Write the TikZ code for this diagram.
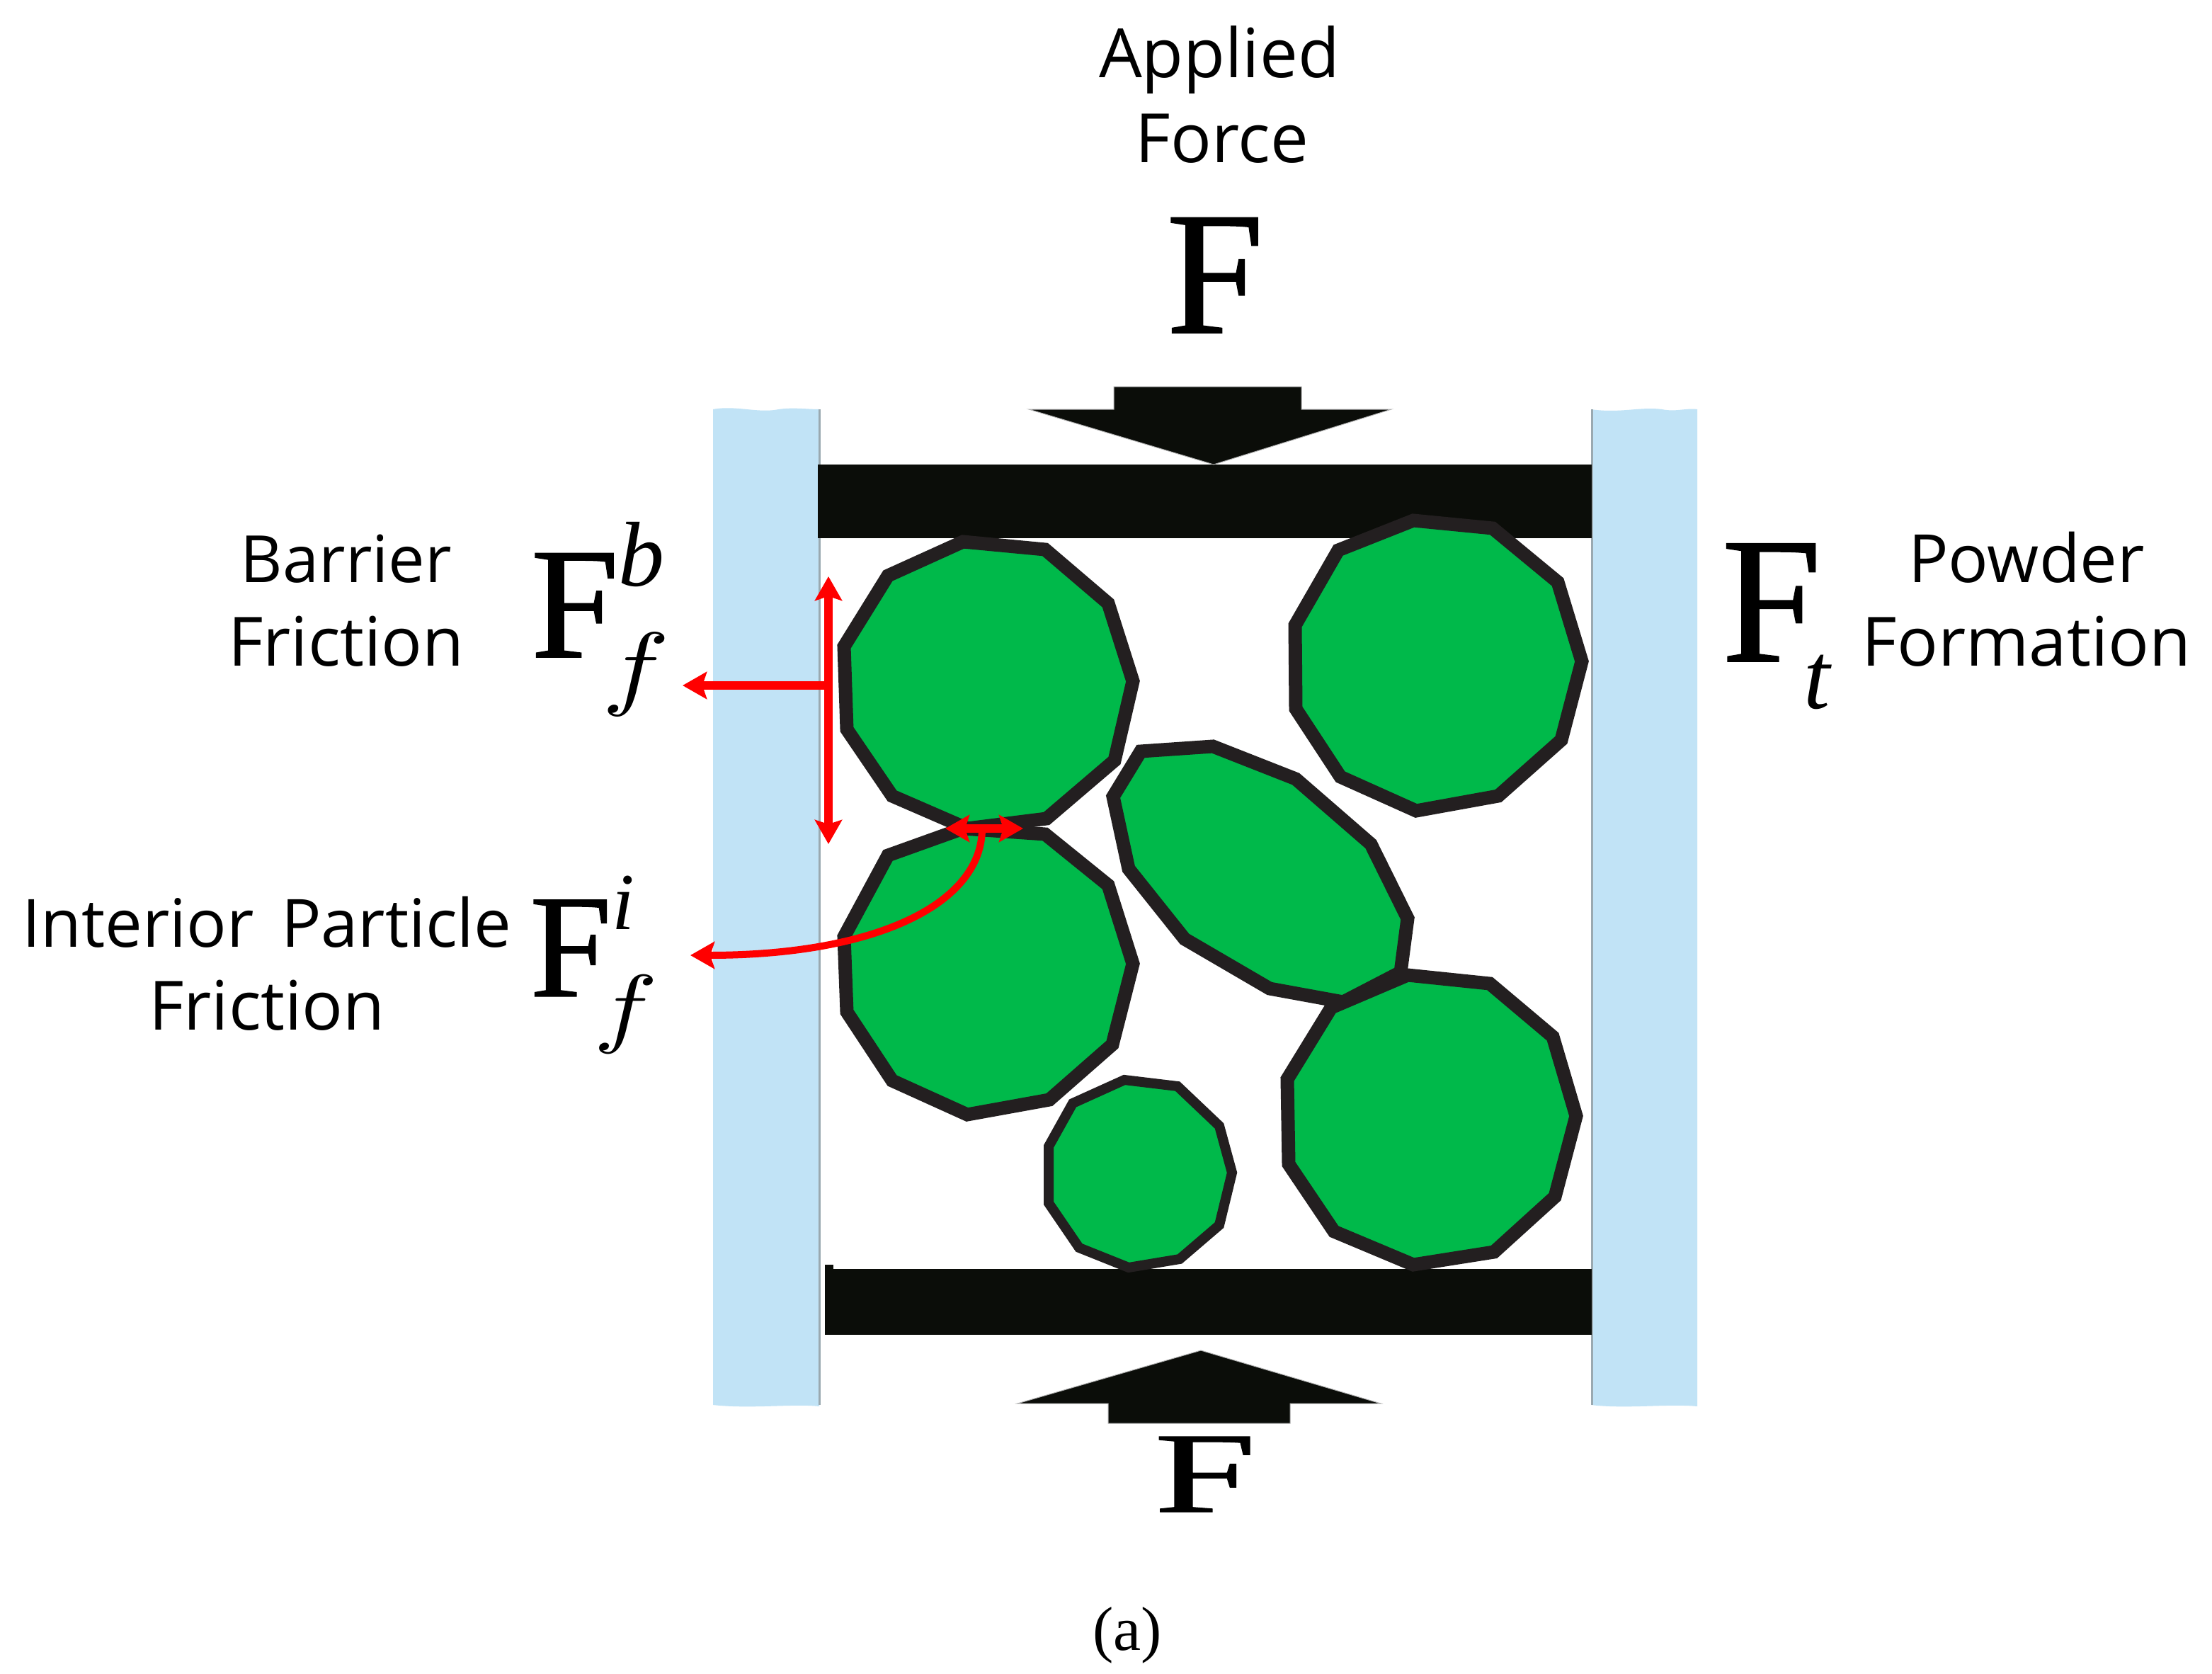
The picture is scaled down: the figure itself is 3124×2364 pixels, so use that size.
\documentclass[tikz,border=0pt]{standalone}
\usepackage{fontspec}
\usepackage{graphicx}
\setmainfont{Liberation Serif}
\newfontfamily\labelfont{Open Sans}
\newfontfamily\heavyserif[FakeBold=0.7]{Liberation Serif}
\usetikzlibrary{arrows.meta}
\definecolor{wallblue}{HTML}{C1E3F6}
\definecolor{wallgrey}{HTML}{9AA9B0}
\definecolor{barblack}{HTML}{0B0D09}
\definecolor{partgreen}{HTML}{00B94A}
\definecolor{partedge}{HTML}{231F20}
\definecolor{redline}{HTML}{FF0000}
\newcommand{\fsz}[1]{\fontsize{#1pt}{#1pt}\selectfont}
\newcommand{\mathf}[2]{\scalebox{#1}[#2]{$f$}}
\tikzset{
  wall/.style={fill=wallblue,draw=none},
  wallline/.style={draw=wallgrey,line width=1.5pt},
  bar/.style={fill=barblack,draw=none},
  bigarrow/.style={fill=barblack,draw=black!30,line width=0.5pt,line join=miter},
  particle/.style={fill=partgreen,draw=partedge,line width=9.5pt,line join=miter,miter limit=2},
  smallparticle/.style={particle,line width=7pt},
  redarrow/.style={draw=redline,line width=5.8pt,>={Stealth[length=17pt,width=19pt,inset=3pt]}},
  lab/.style={inner sep=0pt,anchor=base,font=\labelfont\fsz{47}},
  sym/.style={inner sep=0pt,anchor=base},
}
\begin{document}
\begin{tikzpicture}[x=0.5pt,y=-0.5pt]
\fill[white] (0,0) rectangle (3124,2364);
\useasboundingbox (0,0) rectangle (3124,2364);
% walls
\fill[wall] (1007,578) .. controls (1040,572) and (1070,584) .. (1100,578) .. controls (1120,575) and (1140,578) .. (1157,578) -- (1157,1986) .. controls (1120,1982) and (1060,1990) .. (1007,1984) -- cycle;
\fill[wall] (2247,578) .. controls (2287,584) and (2317,574) .. (2347,578) .. controls (2367,582) and (2380,576) .. (2397,578) -- (2397,1986) .. controls (2355,1982) and (2297,1990) .. (2247,1984) -- cycle;
\draw[wallline] (1157,578) -- (1157,1984);
\draw[wallline] (2248,578) -- (2248,1984);
% plates
\fill[bar] (1155,656) rectangle (2248,760);
\fill[bar] (1165,1792) rectangle (2248,1885);
\fill[bar] (1165,1786) rectangle (1177,1792);
% big arrows
\path[bigarrow] (1573,546) -- (1838,546) -- (1838,578) -- (1965,578) -- (1714,656) -- (1453,578) -- (1573,578) -- cycle;
\path[bigarrow] (1696,1907) -- (1950,1982) -- (1822,1982) -- (1822,2010) -- (1565,2010) -- (1565,1982) -- (1437,1982) -- cycle;
% particles
\path[particle] (1360,765) -- (1476,776) -- (1565,852) -- (1600,962) -- (1574,1074) -- (1478,1156) -- (1366,1170) -- (1260,1124) -- (1196,1030) -- (1192,913) -- (1254,813) -- cycle;
\path[particle] (1360,1170) -- (1476,1178) -- (1565,1250) -- (1600,1361) -- (1571,1475) -- (1482,1553) -- (1366,1574) -- (1260,1526) -- (1196,1429) -- (1192,1323) -- (1254,1208) -- cycle;
\path[particle] (1996,735) -- (2108,746) -- (2200,822) -- (2234,934) -- (2205,1045) -- (2116,1124) -- (2000,1145) -- (1893,1097) -- (1830,1001) -- (1829,883) -- (1890,777) -- cycle;
\path[particle] (1611,1061) -- (1713,1054) -- (1830,1100) -- (1936,1192) -- (1988,1297) -- (1978,1373) -- (1897,1415) -- (1793,1396) -- (1673,1326) -- (1594,1227) -- (1572,1125) -- cycle;
\path[particle] (1988,1377) -- (2104,1389) -- (2193,1464) -- (2226,1576) -- (2196,1690) -- (2110,1768) -- (1996,1786) -- (1884,1739) -- (1820,1644) -- (1818,1524) -- (1880,1423) -- cycle;
\path[smallparticle] (1588,1525) -- (1663,1534) -- (1722,1590) -- (1740,1656) -- (1722,1730) -- (1666,1778) -- (1594,1790) -- (1524,1762) -- (1481,1699) -- (1481,1619) -- (1515,1558) -- cycle;
% red arrows
\coordinate (vtop) at (1170,814);
\coordinate (vbot) at (1170,1192);
\coordinate (vmid) at (1174,968);
\coordinate (wtip) at (964,968);
\coordinate (cl) at (1335,1170);
\coordinate (cr) at (1445,1170);
\coordinate (cstart) at (1387,1170);
\coordinate (ctip) at (975,1349);
\draw[redarrow,<->] (vtop) -- (vbot);
\draw[redarrow,->] (vmid) -- (wtip);
\draw[redarrow,<->] (cl) -- (cr);
\draw[redarrow,->,line width=5pt] (cstart) .. controls (1387,1275) and (1240,1349) .. (ctip);
% labels
\node[lab,font=\labelfont\fsz{48}] (applied) at (1722,110) {Applied};
\node[lab,font=\labelfont\fsz{48}] (force) at (1726,230) {Force};
\node[lab,font=\labelfont\fsz{46}] (barrier) at (489,822) {Barrier};
\node[lab,font=\labelfont\fsz{48}] (bfric) at (489,940) {Friction};
\node[lab] (interior) at (377,1337) {Interior\hspace{0.15em} Particle};
\node[lab,font=\labelfont\fsz{48}] (ifric) at (377,1454) {Friction};
\node[lab] (powder) at (2862,822) {Powder};
\node[lab,font=\labelfont\fsz{48}] (formation) at (2862,940) {Formation};
\node[sym,font=\heavyserif\fsz{124}] (ftop) at (1716,470) {F};
\node[sym,font=\heavyserif\fsz{81}] (fbot) at (1702,2135) {\scalebox{1.6}[1]{F}};
\node[sym,font=\heavyserif\fsz{112}] (fb) at (812,928) {F};
\node[sym,font=\fsz{65}\itshape] (bsup) at (906,827) {b};
\node[sym] (fsub) at (898,985) {\mathf{8}{6.6}};
\node[sym,font=\heavyserif\fsz{104}] (fi) at (806,1407) {F};
\node[sym,font=\fsz{57}\itshape] (isup) at (880,1312) {i};
\node[sym] (fsubi) at (884,1463) {\mathf{7.6}{6.2}};
\node[sym,font=\heavyserif\fsz{127}] (ft) at (2502,934) {F};
\node[sym,font=\fsz{67}\itshape] (tsub) at (2566,1000) {t};
\node[sym,font=\fsz{44}] (cap) at (1592,2330) {(a)};
\end{tikzpicture}
\end{document}
